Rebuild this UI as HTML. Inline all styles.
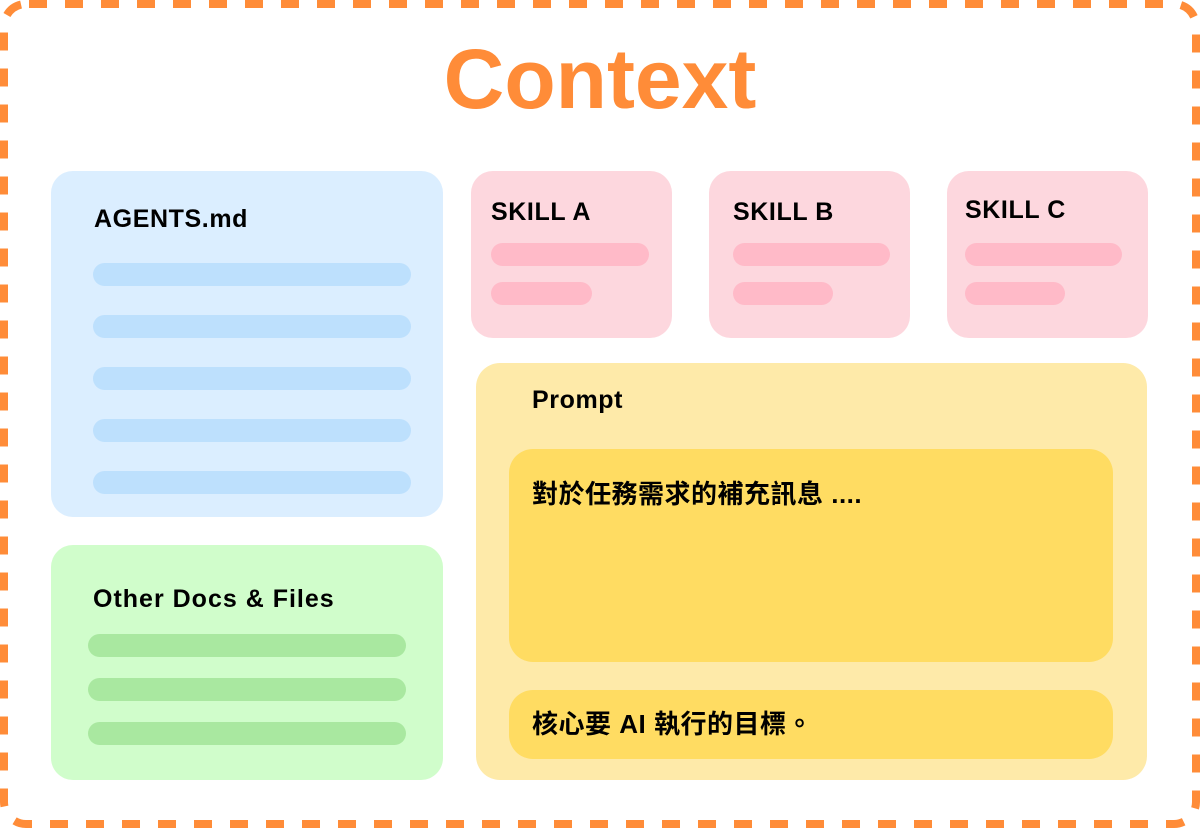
<!DOCTYPE html>
<html><head><meta charset="utf-8"><style>
body{margin:0;width:1200px;height:828px;background:#fff;position:relative;overflow:hidden;font-family:"Liberation Sans","Noto Sans CJK TC",sans-serif;}
.b{position:absolute;}
.t{position:absolute;font-weight:bold;color:#000;white-space:nowrap;font-size:25px;letter-spacing:0.6px;}
</style></head><body>
<svg class="b" style="left:0;top:0" width="1200" height="828"><rect x="4" y="4" width="1192" height="820" rx="22" fill="none" stroke="#ff8c38" stroke-width="8" stroke-dasharray="18 18" stroke-dashoffset="-3"/></svg>
<div class="t" style="left:0;width:1200px;text-align:center;top:31px;font-size:84px;line-height:96px;color:#ff8c38;letter-spacing:0">Context</div>

<div class="b" style="left:51px;top:171px;width:392px;height:346px;background:#dbeeff;border-radius:22px"></div>
<div class="t" style="left:94px;top:204px;line-height:30px">AGENTS.md</div>
<div class="b" style="left:93px;top:263px;width:318px;height:23px;background:#bde0fd;border-radius:12px"></div>
<div class="b" style="left:93px;top:315px;width:318px;height:23px;background:#bde0fd;border-radius:12px"></div>
<div class="b" style="left:93px;top:367px;width:318px;height:23px;background:#bde0fd;border-radius:12px"></div>
<div class="b" style="left:93px;top:419px;width:318px;height:23px;background:#bde0fd;border-radius:12px"></div>
<div class="b" style="left:93px;top:471px;width:318px;height:23px;background:#bde0fd;border-radius:12px"></div>

<div class="b" style="left:51px;top:545px;width:392px;height:235px;background:#d0fdcb;border-radius:22px"></div>
<div class="t" style="left:93px;top:584px;line-height:30px;letter-spacing:1px">Other Docs &amp; Files</div>
<div class="b" style="left:88px;top:634px;width:318px;height:23px;background:#a9e8a0;border-radius:12px"></div>
<div class="b" style="left:88px;top:678px;width:318px;height:23px;background:#a9e8a0;border-radius:12px"></div>
<div class="b" style="left:88px;top:722px;width:318px;height:23px;background:#a9e8a0;border-radius:12px"></div>

<div class="b" style="left:471px;top:171px;width:201px;height:167px;background:#fdd7de;border-radius:22px"></div>
<div class="t" style="left:491px;top:197px;line-height:30px">SKILL A</div>
<div class="b" style="left:491px;top:243px;width:158px;height:23px;background:#ffbac8;border-radius:12px"></div>
<div class="b" style="left:491px;top:282px;width:101px;height:23px;background:#ffbac8;border-radius:12px"></div>

<div class="b" style="left:709px;top:171px;width:201px;height:167px;background:#fdd7de;border-radius:22px"></div>
<div class="t" style="left:733px;top:197px;line-height:30px">SKILL B</div>
<div class="b" style="left:733px;top:243px;width:157px;height:23px;background:#ffbac8;border-radius:12px"></div>
<div class="b" style="left:733px;top:282px;width:100px;height:23px;background:#ffbac8;border-radius:12px"></div>

<div class="b" style="left:947px;top:171px;width:201px;height:167px;background:#fdd7de;border-radius:22px"></div>
<div class="t" style="left:965px;top:195px;line-height:30px">SKILL C</div>
<div class="b" style="left:965px;top:243px;width:157px;height:23px;background:#ffbac8;border-radius:12px"></div>
<div class="b" style="left:965px;top:282px;width:100px;height:23px;background:#ffbac8;border-radius:12px"></div>

<div class="b" style="left:476px;top:363px;width:671px;height:417px;background:#feeaa9;border-radius:24px"></div>
<div class="t" style="left:532px;top:385px;line-height:30px">Prompt</div>
<div class="b" style="left:509px;top:449px;width:604px;height:213px;background:#ffdc62;border-radius:24px"></div>
<div class="t" style="left:532px;top:478px;font-size:26px;line-height:32px;letter-spacing:0.5px">對於任務需求的補充訊息 ....</div>
<div class="b" style="left:509px;top:690px;width:604px;height:69px;background:#ffdc62;border-radius:24px"></div>
<div class="t" style="left:532px;top:708px;font-size:26px;line-height:32px;letter-spacing:0.5px">核心要 AI 執行的目標。</div>
</body></html>
